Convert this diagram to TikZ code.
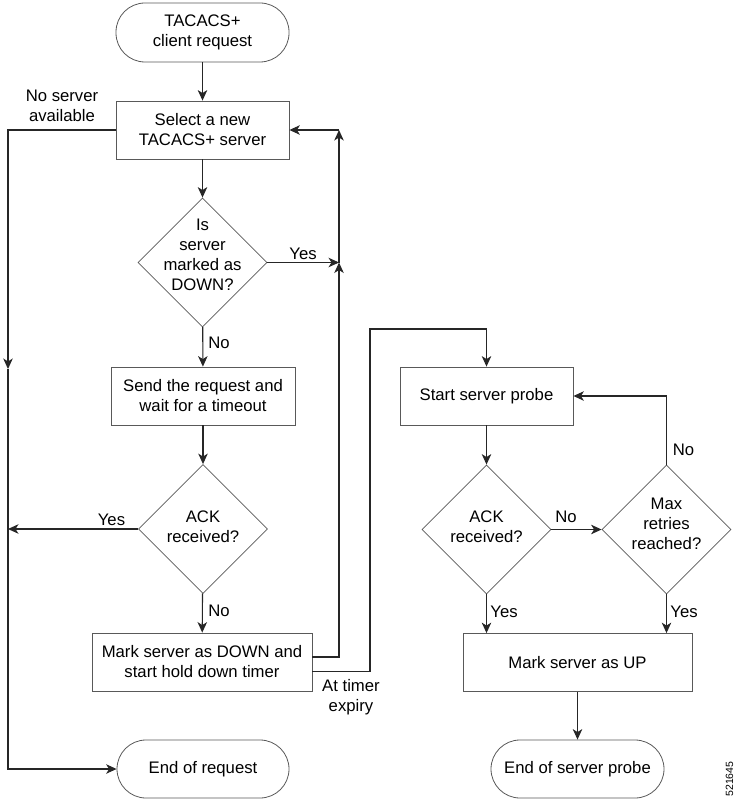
\documentclass[tikz,border=0pt]{standalone}
\usepackage{fontspec}
\setmainfont{Liberation Sans}
\usetikzlibrary{shapes.geometric,arrows.meta}
\begin{document}
\begin{tikzpicture}[x=1pt,y=-1pt,
  every node/.style={font=\fontsize{16.7}{20}\selectfont, inner sep=0pt},
  box/.style={draw=black!65, line width=0.8pt, minimum height=58pt, align=center},
  term/.style={box, rounded corners=29pt},
  dia/.style={draw=black!65, line width=0.8pt, diamond, minimum width=129pt, minimum height=129pt, inner sep=0pt},
  conn/.style={draw=black!85, line width=1.1pt},
  arr/.style={conn, -{Stealth[length=10.5pt,width=9.5pt,inset=3pt]}},
  lbl/.style={align=center}]
\useasboundingbox (0,0) rectangle (740,802);

% main flow
\node[term, minimum width=173pt, minimum height=59pt] (start) at (202.5,32.5) {TACACS+\\client request};
\node[box, minimum width=173pt] (select) at (202.5,130) {Select a new\\TACACS+ server};
\node[dia, label={[lbl,yshift=7.5pt]center:Is\\server\\marked as\\DOWN?}] (d1) at (202.5,262.5) {};
\node[box, minimum width=184pt] (send) at (203,396) {Send the request and\\wait for a timeout};
\node[dia, label={[lbl,yshift=2.5pt]center:ACK\\received?}] (d2) at (203,529) {};
\node[box, minimum width=220pt] (mdown) at (202,662) {Mark server as DOWN and\\start hold down timer};
\node[term, minimum width=172pt] (endreq) at (203,769) {End of request};

% probe flow
\node[box, minimum width=173pt] (probe) at (486.5,396) {Start server probe};
\node[dia, label={[lbl,yshift=2.5pt]center:ACK\\received?}] (d3) at (486.5,529.5) {};
\node[dia, label={[lbl,yshift=5.5pt]center:Max\\retries\\reached?}] (d4) at (666.5,529.5) {};
\node[box, minimum width=229pt] (mup) at (577.5,662.5) {Mark server as UP};
\node[term, minimum width=173pt] (endp) at (577.5,769) {End of server probe};

% helper coordinates
\coordinate (L1) at (8,369);
\coordinate (L2) at (8,529);
\coordinate (Y1) at (339,262.5);
\coordinate (Y2) at (339,130);
\coordinate (T1) at (370,329);

% connectors
\draw[arr] (start) -- (select);
\draw[arr] (select.west) -| (L1);
\draw[arr] (L1) |- (endreq.west);
\draw[arr] (select) -- (d1);
\draw[arr] (d1.east) -- (Y1);
\draw[arr] (d1) -- (send);
\draw[arr] (send) -- (d2);
\draw[arr] (d2.west) -- (L2);
\draw[arr] (d2) -- (mdown);
\draw[arr] ([yshift=5pt]mdown.east) -| (Y1);
\draw[arr] (Y1) -- (Y2);
\draw[arr] (Y2) -- (select.east);
\draw[arr] ([yshift=-9.5pt]mdown.east) -| (T1) -| (probe.north);
\draw[arr] (probe) -- (d3);
\draw[arr] (d3.east) -- (d4.west);
\draw[arr] (d4.north) |- (probe.east);
\draw[arr] (d3.south) -- (d3.south |- mup.north);
\draw[arr] (d4.south) -- (d4.south |- mup.north);
\draw[arr] (mup) -- (endp);

% labels
\node[lbl] (nsa) at (62,105.5) {No server\\available};
\node (y1) at (303,254) {Yes};
\node (n1) at (219,343) {No};
\node (y2) at (111.5,519.5) {Yes};
\node (n2) at (219,610.5) {No};
\node[lbl] (ate) at (351,697.5) {At timer\\expiry};
\node (n3) at (566,517) {No};
\node (n4) at (683.5,450) {No};
\node (y3) at (504,611.5) {Yes};
\node (y4) at (684,611.5) {Yes};
\node[rotate=90, font=\fontsize{10.5}{12}\selectfont] (fig) at (729.5,779) {521645};
\end{tikzpicture}
\end{document}
